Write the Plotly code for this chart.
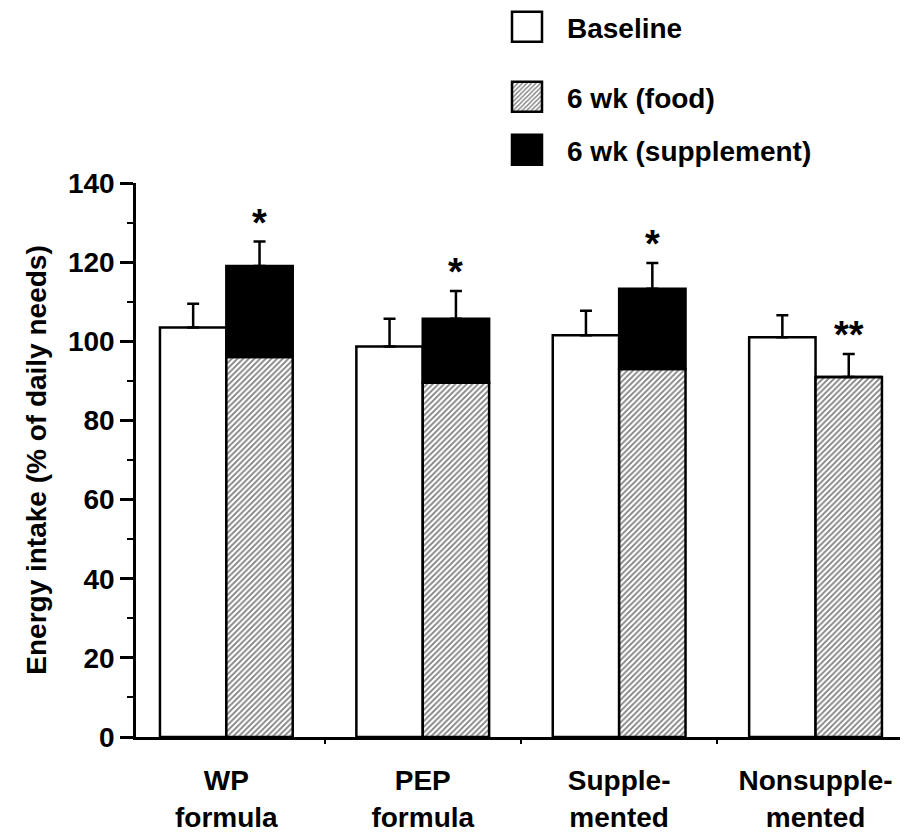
import plotly.graph_objects as go

# ---- data ----
categories = ["WP formula", "PEP formula", "Supplemented", "Nonsupplemented"]
tick_labels = ["WP<br>formula", "PEP<br>formula", "Supple-<br>mented", "Nonsupple-<br>mented"]
baseline = [103.5, 98.7, 101.5, 101.0]
baseline_sem = [6.0, 7.0, 6.2, 5.6]
food_6wk = [96.0, 89.5, 93.0, 91.0]
supplement_6wk = [23.0, 16.2, 20.3, 0.0]
sem_6wk = [6.2, 7.0, 6.5, 5.8]
significance = ["*", "*", "*", "**"]

FONT = "Liberation Sans, Arial, Helvetica, sans-serif"
FS = 28
BW = 0.338  # bar width in category units

fig = go.Figure()

fig.add_trace(go.Bar(
    name="Baseline", x=categories, y=baseline, width=BW, offset=-BW,
    marker=dict(color="white", line=dict(color="black", width=2.5)),
    error_y=dict(type="data", array=baseline_sem, arrayminus=[0] * len(baseline),
                 symmetric=False, color="black", thickness=2.5, width=6),
    legend="legend",
))
fig.add_trace(go.Bar(
    name="6 wk (food)", x=categories, y=food_6wk, width=BW, offset=0,
    marker=dict(color="white", line=dict(color="black", width=2.5),
                pattern=dict(shape="/", fgcolor="black", bgcolor="white",
                             size=4, solidity=0.45)),
    legend="legend2",
))
fig.add_trace(go.Bar(
    name="6 wk (supplement)", x=categories, y=supplement_6wk, base=food_6wk,
    width=BW, offset=0,
    marker=dict(color="black", line=dict(color="black", width=2.5)),
    error_y=dict(type="data", array=sem_6wk, arrayminus=[0] * len(sem_6wk),
                 symmetric=False, color="black", thickness=2.5, width=6),
    legend="legend3",
))

for c, f, s, e, sig in zip(categories, food_6wk, supplement_6wk, sem_6wk, significance):
    fig.add_annotation(x=c, y=f + s + e, text=sig, showarrow=False,
                       xshift=33, yshift=-4, yanchor="bottom",
                       font=dict(family=FONT, size=38, color="black", weight="bold"))

# plot area in pixels: x 136..900, y 183..737
def px_x(p):
    return (p - 136) / 764.0

def px_y(p):
    return (737 - p) / 554.0

legend_common = dict(font=dict(family=FONT, size=FS, color="black", weight="bold"),
                     bgcolor="rgba(0,0,0,0)", borderwidth=0, itemwidth=70,
                     xanchor="left", yanchor="middle")
fig.update_layout(
    legend=dict(x=px_x(487), y=px_y(27), **legend_common),
    legend2=dict(x=px_x(487), y=px_y(97), **legend_common),
    legend3=dict(x=px_x(487), y=px_y(150), **legend_common),
)

fig.update_layout(
    width=907, height=837,
    margin=dict(l=136, r=7, t=183, b=100, autoexpand=False),
    plot_bgcolor="white", paper_bgcolor="white",
    barmode="overlay",
    showlegend=True,
    font=dict(family=FONT, color="black"),
)

fig.update_xaxes(
    type="category", categoryorder="array", categoryarray=categories,
    range=[-0.46, 3.43], tickvals=categories, ticktext=tick_labels,
    showline=True, linecolor="black", linewidth=2.5,
    ticks="outside", tickson="boundaries", ticklen=4, tickwidth=1.5, tickcolor="black",
    ticklabelstandoff=17, automargin=False,
    tickfont=dict(family=FONT, size=FS, color="black", weight="bold"),
    showgrid=False, zeroline=False,
)
fig.update_yaxes(
    range=[0, 140], tickvals=[0, 20, 40, 60, 80, 100, 120, 140],
    showline=True, linecolor="black", linewidth=2.5,
    ticks="outside", ticklen=13, tickwidth=2.5, tickcolor="black",
    minor=dict(dtick=10, ticks="outside", ticklen=6, tickwidth=2, tickcolor="black"),
    tickfont=dict(family=FONT, size=FS, color="black", weight="bold"),
    title=dict(text="Energy intake (% of daily needs)", standoff=14,
               font=dict(family=FONT, size=FS, color="black", weight="bold")),
    showgrid=False, zeroline=False, automargin=False,
)

post = """
document.body.style.margin = '0';
document.body.style.padding = '0';
var gd = document.getElementById('{plot_id}');
function bigSwatches(){
  gd.querySelectorAll('.legendpoints path').forEach(function(p){
    p.setAttribute('d','M15,15H-15V-15H15Z');
  });
}
bigSwatches();
gd.on('plotly_afterplot', bigSwatches);
"""
fig.write_html("out.html", post_script=post, config={"displayModeBar": False})
